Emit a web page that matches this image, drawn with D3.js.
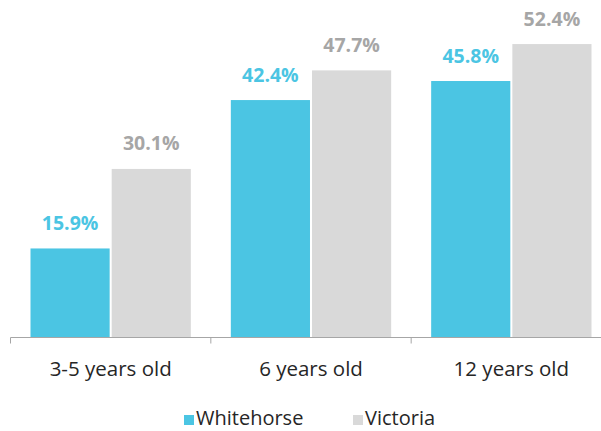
<!DOCTYPE html>
<html>
<head>
<meta charset="utf-8">
<script src="https://cdn.jsdelivr.net/npm/d3@7"></script>
<style>
  body { margin: 0; background: #fff; }
  text { font-family: "Open Sans", "Liberation Sans", sans-serif; }
</style>
</head>
<body>
<div id="root"></div>
<script>
// data
const categories = ['3-5 years old', '6 years old', '12 years old'];
const seriesNames = ['Whitehorse', 'Victoria'];
const whitehorse = [15.9, 42.4, 45.8];
const victoria = [30.1, 47.7, 52.4];

const colors = ['#4BC5E3', '#D9D9D9'];
const labelColors = ['#4BC5E3', '#A6A6A6'];

const w = 601;
const h = 431;
const baseY = 337.5;

const svg = d3.select('#root')
    .append('svg')
    .attr('width', w)
    .attr('height', h);

// x scale - one band per age group
const x = d3.scaleBand()
    .domain(categories)
    .range([10.5, 611.5])
    .paddingInner(0)
    .paddingOuter(0);

const xInner = d3.scaleBand()
    .domain(seriesNames)
    .range([20, x.bandwidth() - 20])
    .paddingInner(0.025);

const y = d3.scaleLinear()
    .domain([0, 60])
    .range([baseY, 1.5]);

const rows = categories.map((c, i) => ({ cat: c, vals: [whitehorse[i], victoria[i]] }));

const groups = svg.selectAll('g.group')
    .data(rows)
    .enter()
    .append('g')
    .attr('class', 'group')
    .attr('transform', d => `translate(${x(d.cat)},0)`);

groups.selectAll('rect')
    .data(d => d.vals.map((v, j) => ({ name: seriesNames[j], v: v, j: j })))
    .enter()
    .append('rect')
    .attr('x', d => xInner(d.name))
    .attr('y', d => y(d.v))
    .attr('width', xInner.bandwidth())
    .attr('height', d => baseY - y(d.v))
    .attr('fill', d => colors[d.j]);

groups.selectAll('text.val')
    .data(d => d.vals.map((v, j) => ({ name: seriesNames[j], v: v, j: j })))
    .enter()
    .append('text')
    .attr('class', 'val')
    .attr('x', d => xInner(d.name) + xInner.bandwidth() / 2)
    .attr('y', d => y(d.v) - 18.5)
    .attr('text-anchor', 'middle')
    .attr('font-size', '19.5px')
    .attr('font-weight', 'bold')
    .attr('fill', d => labelColors[d.j])
    .text(d => d.v.toFixed(1) + '%');

// x axis
const xAxis = d3.axisBottom(x).tickSize(0).tickPadding(0);
const ax = svg.append('g')
    .attr('transform', `translate(0,${baseY})`)
    .call(xAxis);
ax.select('.domain').attr('stroke', '#A6A6A6').attr('d', `M10.5,0H611.5`);
ax.selectAll('.tick text')
    .attr('font-size', '20.5px')
    .attr('fill', '#262626')
    .attr('dy', '0')
    .attr('y', 38)
    .style('font-family', '"Open Sans", sans-serif');

// tick marks at band edges
svg.selectAll('line.sep')
    .data(categories.concat(['end']))
    .enter()
    .append('line')
    .attr('class', 'sep')
    .attr('x1', (d, i) => i < categories.length ? x(d) : x.range()[1])
    .attr('x2', (d, i) => i < categories.length ? x(d) : x.range()[1])
    .attr('y1', baseY)
    .attr('y2', baseY + 6)
    .attr('stroke', '#A6A6A6');

// legend
const legendX = [184, 353];
const leg = svg.selectAll('g.legend')
    .data(seriesNames)
    .enter()
    .append('g')
    .attr('class', 'legend')
    .attr('transform', (d, i) => `translate(${legendX[i]},415)`);
leg.append('rect')
    .attr('width', 10)
    .attr('height', 10)
    .attr('fill', (d, i) => colors[i]);
leg.append('text')
    .attr('x', 12)
    .attr('y', 10)
    .attr('font-size', '20px')
    .attr('fill', '#262626')
    .text(d => d);
</script>
</body>
</html>
